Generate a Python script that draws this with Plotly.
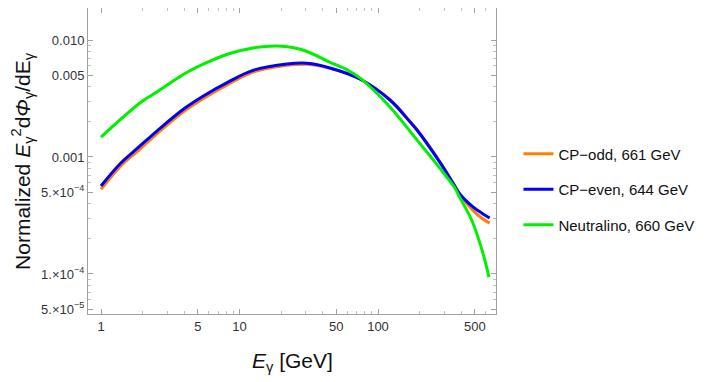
import plotly.graph_objects as go

# Data (E in GeV, normalized E^2 dPhi/dE)
E_green = [1, 1.95, 2.58, 3.6, 4.25, 5.73, 8.27, 12.5, 19, 28.7, 45, 60, 74, 122, 191, 280, 360,
           390, 477, 564, 633]
neutralino = [1.48e-3, 2.95e-3, 3.65e-3, 4.75e-3, 5.35e-3, 6.36e-3, 7.59e-3, 8.55e-3, 8.89e-3,
              8.22e-3, 6.45e-3, 5.55e-3, 4.75e-3, 2.68e-3, 1.40e-3, 8.0e-4, 5.4e-4, 4.5e-4,
              2.85e-4, 1.6e-4, 9.4e-5]

E_cp = [1, 1.39, 1.85, 2.58, 4.04, 5.64, 8.27, 12.5, 22, 30.6, 45, 74, 122, 170, 191, 280, 360,
        391, 485, 573, 640]
cp_even = [5.65e-4, 8.89e-4, 1.20e-3, 1.70e-3, 2.62e-3, 3.39e-3, 4.37e-3, 5.50e-3, 6.23e-3,
           6.32e-3, 5.77e-3, 4.64e-3, 3.07e-3, 2.0e-3, 1.70e-3, 9.0e-4, 5.6e-4, 4.8e-4, 3.74e-4,
           3.26e-4, 3.01e-4]
cp_odd = [5.3e-4, 8.4e-4, 1.13e-3, 1.61e-3, 2.49e-3, 3.23e-3, 4.18e-3, 5.32e-3, 6.08e-3,
          6.20e-3, 5.72e-3, 4.64e-3, 3.09e-3, 2.02e-3, 1.72e-3, 9.1e-4, 5.6e-4, 4.75e-4, 3.5e-4,
          2.95e-4, 2.72e-4]

x_tickvals = [1, 5, 10, 50, 100, 500]
x_ticktext = ["1", "5", "10", "50", "100", "500"]
y_tickvals = [5e-5, 1e-4, 5e-4, 1e-3, 5e-3, 1e-2]
y_ticktext = ["5.×10<sup>−5</sup>", "1.×10<sup>−4</sup>", "5.×10<sup>−4</sup>",
              "0.001", "0.005", "0.010"]

labels = ["CP−odd, 661 GeV", "CP−even, 644 GeV", "Neutralino, 660 GeV"]
colors = ["#FF8000", "#0000FF", "#00F000"]

fig = go.Figure()
series = [(E_cp, cp_odd), (E_cp, cp_even), (E_green, neutralino)]
for i, ((xs, ys), lab, col) in enumerate(zip(series, labels, colors)):
    fig.add_trace(go.Scatter(x=xs, y=ys, mode="lines", name=lab,
                             line=dict(color=col, width=3, shape="spline", smoothing=1.0),
                             legendgroup=str(i)))

axis_common = dict(showgrid=False, zeroline=False, showline=True, linecolor="#a0a0a0",
                   linewidth=1, mirror="allticks", ticks="inside", ticklen=5,
                   tickcolor="#a0a0a0",
                   tickfont=dict(family="Liberation Sans, Arial", size=13, color="#333333"))

fig.update_xaxes(type="log", range=[-0.094, 2.852], tickmode="array",
                 tickvals=x_tickvals, ticktext=x_ticktext,
                 minor=dict(ticks="inside", ticklen=3, tickcolor="#c0c0c0",
                            tickmode="array",
                            tickvals=[2, 3, 4, 6, 7, 8, 9, 20, 30, 40, 60, 70, 80, 90,
                                      200, 300, 400, 600, 700]),
                 **axis_common)
fig.update_yaxes(type="log", range=[-4.342, -1.7265], tickmode="array",
                 tickvals=y_tickvals, ticktext=y_ticktext,
                 minor=dict(ticks="inside", ticklen=3, tickcolor="#c0c0c0",
                            tickmode="array",
                            tickvals=[6e-5, 7e-5, 8e-5, 9e-5, 2e-4, 3e-4, 4e-4, 6e-4, 7e-4,
                                      8e-4, 9e-4, 2e-3, 3e-3, 4e-3, 6e-3, 7e-3, 8e-3, 9e-3]),
                 **axis_common)

fig.update_layout(
    width=700, height=374,
    margin=dict(l=80, r=212, t=0, b=68, autoexpand=False),
    paper_bgcolor="white", plot_bgcolor="white",
    font=dict(family="Liberation Sans, Arial", color="#111111"),
    legend=dict(x=1.055, y=0.577, xanchor="left", yanchor="top",
                font=dict(size=15, color="#111111"), tracegroupgap=13,
                traceorder="grouped", bgcolor="rgba(0,0,0,0)"),
    annotations=[
        dict(text="Normalized <i>E</i><sub>γ</sub><sup>2</sup>d<i>Φ</i><sub>γ</sub>/dE<sub>γ</sub>",
             xref="paper", yref="paper", x=-0.162, y=0.5, xanchor="center", yanchor="middle",
             textangle=-90, showarrow=False, font=dict(size=21, color="#111111")),
        dict(text="<i>E</i><sub>γ</sub> [GeV]", xref="paper", yref="paper",
             x=0.5, y=-0.157, xanchor="center", yanchor="middle", showarrow=False,
             font=dict(size=21, color="#111111")),
    ],
)

fig.write_html("out.html")
